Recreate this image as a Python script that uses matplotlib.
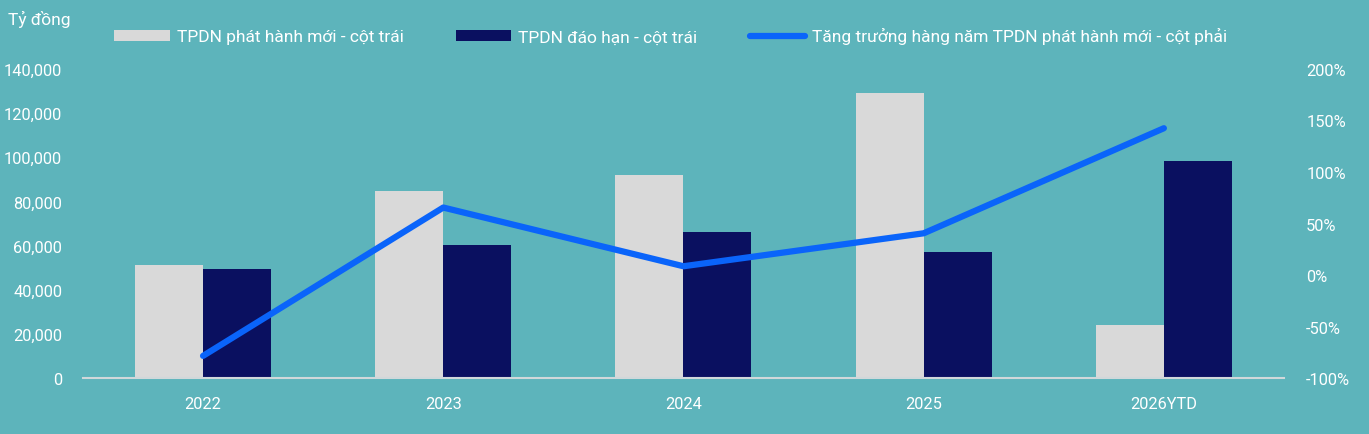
import numpy as np
import matplotlib.pyplot as plt
from matplotlib.ticker import FuncFormatter

plt.rcParams['font.family'] = ['Roboto', 'DejaVu Sans']

# data
years = ['2022', '2023', '2024', '2025', '2026YTD']
phat_hanh = [51000, 84500, 91800, 129200, 24200]
dao_han = [49500, 60200, 66000, 57300, 98500]
tang_truong = [-78.5, 65.5, 8.5, 40.5, 142.5]

bg = '#5DB4BB'
txt = 'white'

fig = plt.figure(figsize=(13.69, 4.35), dpi=100, facecolor=bg)
ax = fig.add_axes([0.0606, 0.1287, 0.8773, 0.7104], facecolor=bg)
ax2 = ax.twinx()

x = np.arange(len(years))
w = 0.283
b1 = ax.bar(x - w / 2, phat_hanh, w, color='#D9D9D9', label='TPDN phát hành mới - cột trái')
b2 = ax.bar(x + w / 2, dao_han, w, color='#0A1060', label='TPDN đáo hạn - cột trái')
l1, = ax2.plot(x, tang_truong, color='#0A64FA', lw=4.5, solid_capstyle='round',
               label='Tăng trưởng hàng năm TPDN phát hành mới - cột phải')

ax.set_xlim(-0.5, 4.5)
ax.set_ylim(0, 140000)
ax.set_yticks(np.arange(0, 140001, 20000))
ax.yaxis.set_major_formatter(FuncFormatter(lambda v, p: f'{int(v):,}'))
ax2.set_ylim(-100, 200)
ax2.set_yticks(np.arange(-100, 201, 50))
ax2.yaxis.set_major_formatter(FuncFormatter(lambda v, p: f'{int(v)}%'))
ax.set_xticks(x)
ax.set_xticklabels(years)

for a in (ax, ax2):
    for s in a.spines.values():
        s.set_visible(False)
    a.tick_params(length=0, colors=txt, labelsize=11.8)
ax.spines['bottom'].set_visible(True)
ax.spines['bottom'].set_color('#D0D8DA')
ax.spines['bottom'].set_linewidth(1.5)
ax.tick_params(axis='y', pad=15)
ax.tick_params(axis='x', pad=13)
ax2.tick_params(axis='y', pad=16)
ax2.set_zorder(ax.get_zorder() + 1)
ax2.patch.set_visible(False)

fig.text(0.006, 0.955, 'Tỷ đồng', color=txt, fontsize=12.5, va='center')
fig.legend([b1, b2, l1], [b1.get_label(), b2.get_label(), l1.get_label()],
           loc='center', bbox_to_anchor=(0.49, 0.915), ncol=3, frameon=False,
           fontsize=12.5, labelcolor=txt, handlelength=3.2, handleheight=0.6,
           handletextpad=0.4, columnspacing=3.0)

fig.savefig('out.png', dpi=100, facecolor=bg)
